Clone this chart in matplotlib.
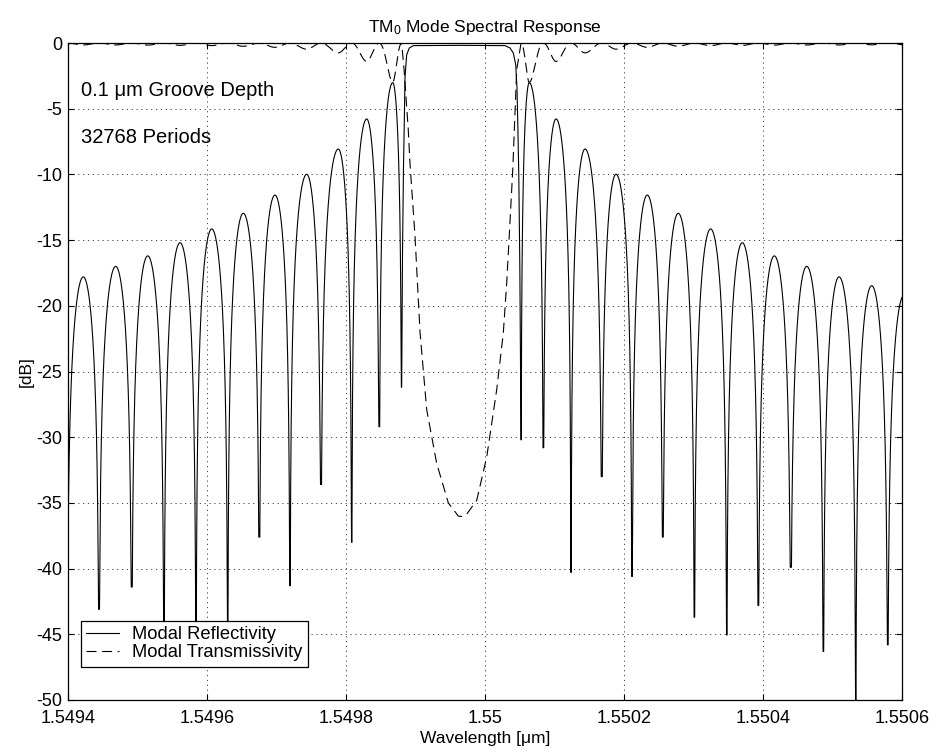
import numpy as np
import matplotlib
matplotlib.use("Agg")
import matplotlib.pyplot as plt

plt.rcParams['font.family'] = ['Liberation Sans', 'DejaVu Sans']
plt.rcParams['axes.unicode_minus'] = False
plt.rcParams['mathtext.fontset'] = 'custom'
plt.rcParams['mathtext.rm'] = 'Liberation Sans'
plt.rcParams['mathtext.default'] = 'regular'

# ---------------- data ----------------
# reflectivity nulls (wavelength in um, level in dB)
refl_null_wl = [1.5493986, 1.5494446, 1.5494917, 1.5495381, 1.5495842, 1.5496298,
                1.5496753, 1.5497194, 1.5497640, 1.5498082, 1.5498479, 1.5498801,
                1.5500518, 1.5500839, 1.5501237, 1.5501679, 1.5502115, 1.5502557,
                1.5503012, 1.5503478, 1.5503932, 1.5504399, 1.5504868, 1.5505334,
                1.5505794, 1.5506259]
refl_null_db = [-45.0, -43.1, -41.4, -45.5, -46.5, -45.0,
                -37.6, -41.3, -33.6, -38.0, -29.2, -26.2,
                -30.2, -30.8, -40.3, -33.0, -40.6, -37.6,
                -43.7, -45.05, -42.8, -39.9, -46.3, -52.0,
                -45.8, -45.0]
# side-lobe maxima (one per lobe between consecutive nulls, passband excluded)
refl_peak_wl = [1.5494220, 1.5494686, 1.5495147, 1.5495612, 1.5496068, 1.5496522,
                1.5496978, 1.5497435, 1.5497889, 1.5498298, 1.5498672,
                1.5500637, 1.5501022, 1.5501439, 1.5501885, 1.5502335, 1.5502781,
                1.5503247, 1.5503702, 1.5504163, 1.5504629, 1.5505094, 1.5505564,
                1.5506029]
refl_peak_db = [-17.8, -17.0, -16.2, -15.2, -14.15, -12.96,
                -11.57, -9.99, -8.07, -5.78, -3.02,
                -3.02, -5.78, -8.07, -9.99, -11.57, -12.96,
                -14.15, -15.2, -16.2, -17.0, -17.8, -18.47,
                -19.2]
# stop-band (passband of reflection) points between nulls 11 and 12
band_wl = [1.5498813, 1.5498827, 1.5498839, 1.5498849, 1.5498873, 1.5498911,
           1.5498968, 1.5499655, 1.5500288, 1.5500360, 1.5500407, 1.5500442,
           1.5500460, 1.5500471, 1.5500486, 1.5500501]
band_db = [-16.0, -9.5, -6.0, -2.6, -0.9, -0.38,
           -0.2, -0.18, -0.2, -0.38, -0.76, -1.65,
           -3.4, -5.9, -10.0, -17.0]
# transmissivity ripple minima (one per side lobe)
trans_min_db = [-0.15, -0.15, -0.16, -0.18, -0.2, -0.25,
                -0.33, -0.47, -0.75, -1.4, -3.0,
                -3.0, -1.4, -0.75, -0.47, -0.33, -0.25,
                -0.2, -0.18, -0.16, -0.15, -0.15, -0.14,
                -0.13]
# transmissivity dip inside the stop band
dip_wl = [1.5498801, 1.5498835, 1.5498896, 1.5498921, 1.5498993, 1.5499065,
          1.5499161, 1.5499305, 1.5499472, 1.5499616, 1.5499676, 1.5499745,
          1.5499881, 1.5500025, 1.5500168, 1.5500263, 1.5500312, 1.5500399,
          1.5500456, 1.5500518]
dip_db = [0.0, -2.0, -6.6, -9.2, -14.7, -22.0,
          -27.9, -32.0, -35.0, -36.0, -36.05, -35.8,
          -34.8, -31.5, -26.4, -22.1, -18.3, -9.7,
          -2.05, 0.0]

xticks = [1.5494, 1.5496, 1.5498, 1.55, 1.5502, 1.5504, 1.5506]
xticklabels = ['1.5494', '1.5496', '1.5498', '1.55', '1.5502', '1.5504', '1.5506']
yticks = [0, -5, -10, -15, -20, -25, -30, -35, -40, -45, -50]
yticklabels = ['0', '-5', '-10', '-15', '-20', '-25', '-30', '-35', '-40', '-45', '-50']


# ---------------- build curves through the read points ----------------
def lobe_shape(wl_l, wl_pk, wl_r, n=400):
    w = np.linspace(wl_l, wl_r, n)
    t = np.where(w <= wl_pk, 0.5 * (w - wl_l) / (wl_pk - wl_l),
                 0.5 + 0.5 * (w - wl_pk) / (wl_r - wl_pk))
    return w, t, np.sin(np.pi * t) ** 2


R_w, R_y, T_w, T_y = [], [], [], []
lobe = 0
for k in range(len(refl_null_wl) - 1):
    if k == 11:
        R_w += [refl_null_wl[11]] + band_wl + [refl_null_wl[12]]
        R_y += [refl_null_db[11]] + band_db + [refl_null_db[12]]
        T_w += dip_wl
        T_y += dip_db
        continue
    wl_l, wl_r = refl_null_wl[k], refl_null_wl[k + 1]
    w, t, s = lobe_shape(wl_l, refl_peak_wl[lobe], wl_r)
    r = refl_peak_db[lobe] + 10 * np.log10(np.maximum(s, 1e-12))
    r = np.maximum(r, np.where(t < 0.5, refl_null_db[k], refl_null_db[k + 1]))
    tr = 10 * np.log10(1 - (1 - 10 ** (trans_min_db[lobe] / 10)) * s)
    R_w += list(w)
    R_y += list(r)
    T_w += list(w)
    T_y += list(tr)
    lobe += 1

# ---------------- figure ----------------
W, H = 936, 753
fig = plt.figure(figsize=(W / 100, H / 100), dpi=100)
ax = fig.add_axes([68 / W, 1 - 700 / H, 834 / W, 657 / H])

l1, = ax.plot(R_w, R_y, color='k', lw=0.8, label='Modal Reflectivity')
l2, = ax.plot(T_w, T_y, color='k', lw=0.8, dashes=(9, 5), label='Modal Transmissivity')

ax.set_xlim(1.5494, 1.5506)
ax.set_ylim(-50, 0)
ax.set_xticks(xticks)
ax.set_xticklabels(xticklabels)
ax.set_yticks(yticks)
ax.set_yticklabels(yticklabels)
ax.tick_params(direction='in', length=4, width=0.8, labelsize=13,
               top=True, right=True)
ax.tick_params(axis='x', pad=7)
ax.tick_params(axis='y', pad=4)
ax.grid(True, color='0.25', linestyle=(0, (1.2, 3.8)), linewidth=0.7)
for sp in ax.spines.values():
    sp.set_linewidth(0.9)

ax.set_title('TM$_0$ Mode Spectral Response', fontsize=12.5, pad=8)
ax.set_xlabel('Wavelength [μm]', fontsize=12.5, labelpad=3)
ax.set_ylabel('[dB]', fontsize=12.5, labelpad=2)

ax.text(1.549418, -4.05, '0.1 μm Groove Depth', fontsize=14.5, va='baseline')
ax.text(1.549418, -7.63, '32768 Periods', fontsize=14.5, va='baseline')

leg = ax.legend(handles=[l1, l2], loc='lower left', bbox_to_anchor=(0.0152, 0.0507),
                borderaxespad=0, fontsize=13.2, frameon=True, fancybox=False,
                framealpha=1, edgecolor='k', borderpad=0.3, labelspacing=0.05,
                handlelength=1.8, handletextpad=0.7)
leg.get_frame().set_linewidth(0.9)

fig.savefig('out.png', dpi=100)
